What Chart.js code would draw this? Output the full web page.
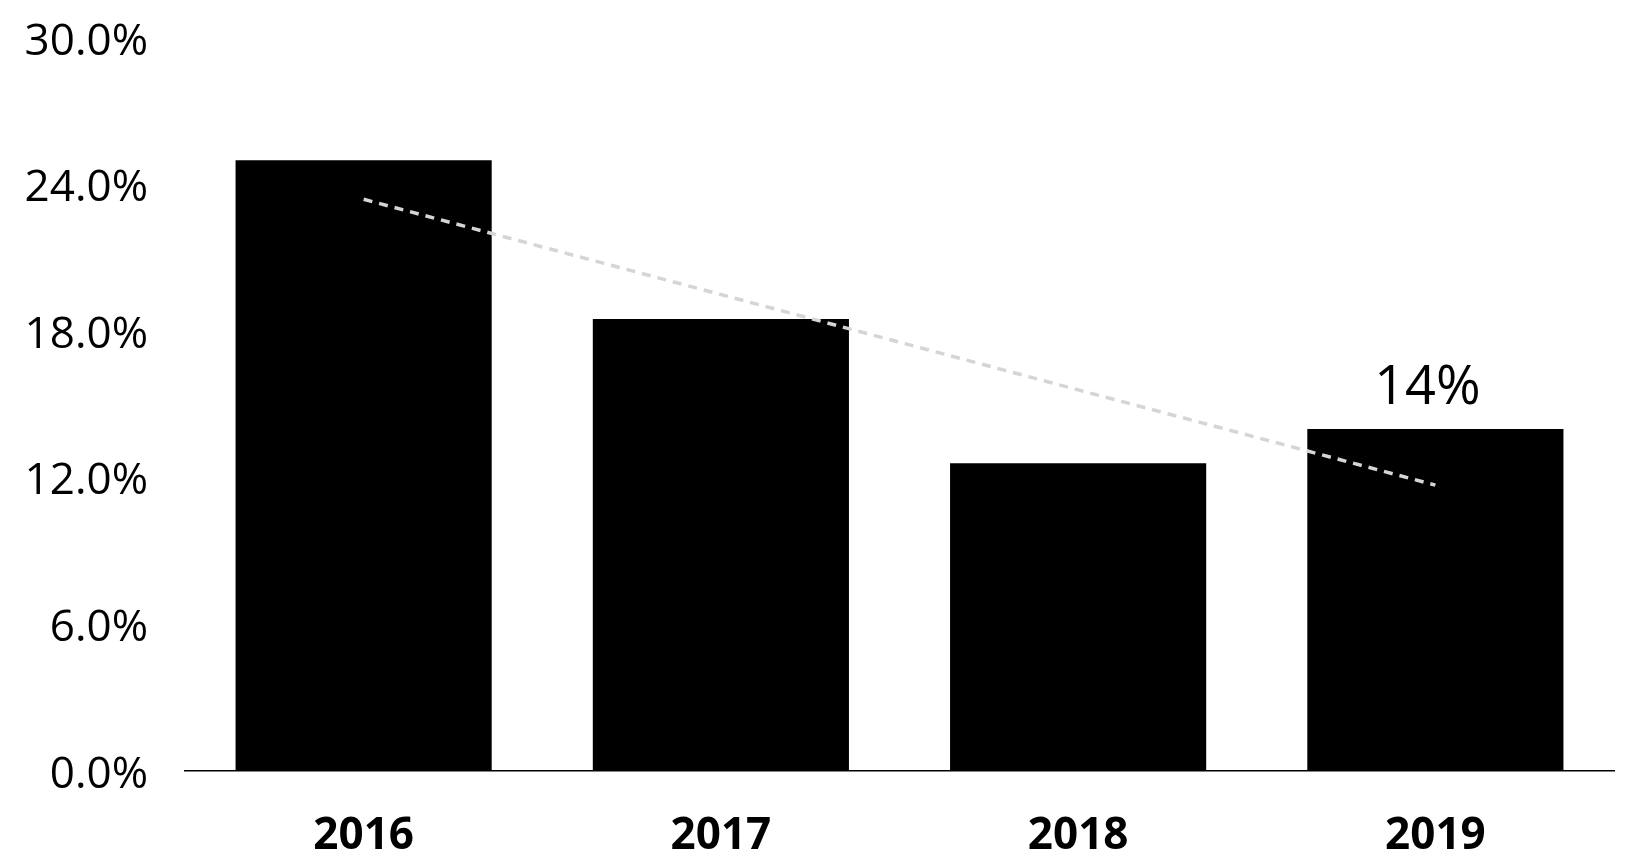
<!DOCTYPE html>
<html>
<head>
<meta charset="utf-8">
<script src="https://cdn.jsdelivr.net/npm/chart.js@4/dist/chart.umd.min.js"></script>
<style>
  html, body { margin: 0; padding: 0; background: #fff; }
  #wrap { width: 1634px; height: 868px; }
</style>
</head>
<body>
<div id="wrap"><canvas id="chart" width="1634" height="868"></canvas></div>
<script>
// datos
const years = ['2016', '2017', '2018', '2019'];
const shareValues = [25.0, 18.5, 12.6, 14.0];
const trendValues = [23.4, 19.5, 15.6, 11.7];
const yTicks = [0, 6, 12, 18, 24, 30];
const labelText = '14%';

const FONT = "'Comic Sans MS', 'Open Sans', sans-serif";

// etiqueta encima de la ultima barra
const lastBarLabel = {
    id: 'lastBarLabel',
    afterDatasetsDraw(chart) {
        const meta = chart.getDatasetMeta(1);
        const bar = meta.data[meta.data.length - 1];
        const ctx = chart.ctx;
        ctx.save();
        ctx.font = '54px ' + FONT;
        ctx.fillStyle = '#000';
        ctx.textAlign = 'center';
        ctx.textBaseline = 'alphabetic';
        ctx.fillText(labelText, bar.x - 8, bar.y - 25);
        ctx.restore();
    }
};

new Chart(document.getElementById('chart'), {
    data: {
        labels: years,
        datasets: [
            {
                type: 'line',
                data: trendValues,
                borderColor: '#d5d5d5',
                borderWidth: 3.5,
                borderDash: [9, 7],
                pointRadius: 0,
                fill: false,
                order: 0
            },
            {
                type: 'bar',
                data: shareValues,
                backgroundColor: '#000',
                categoryPercentage: 1,
                barPercentage: 0.717,
                order: 1
            }
        ]
    },
    options: {
        responsive: false,
        animation: false,
        layout: { padding: { top: 38, right: 20, bottom: 0, left: 0 } },
        plugins: {
            legend: { display: false },
            tooltip: { enabled: false }
        },
        scales: {
            x: {
                afterFit(scale) { scale.height = 97; },
                grid: { display: false, drawTicks: false },
                border: { display: true, color: '#000', width: 1.5 },
                ticks: {
                    color: '#000',
                    padding: 39,
                    font: { family: FONT, size: 44, weight: 'bold' }
                }
            },
            y: {
                min: 0,
                max: 30,
                afterFit(scale) {
                    scale.width = 185;
                    scale.paddingTop = 0;
                    scale.paddingBottom = 0;
                },
                afterBuildTicks(scale) { scale.ticks = yTicks.map(v => ({ value: v })); },
                grid: { display: false, drawTicks: false },
                border: { display: false },
                ticks: {
                    color: '#000',
                    padding: 37,
                    labelOffset: 4,
                    font: { family: FONT, size: 44 },
                    callback: v => v.toFixed(1) + '%'
                }
            }
        }
    },
    plugins: [lastBarLabel]
});
</script>
</body>
</html>
